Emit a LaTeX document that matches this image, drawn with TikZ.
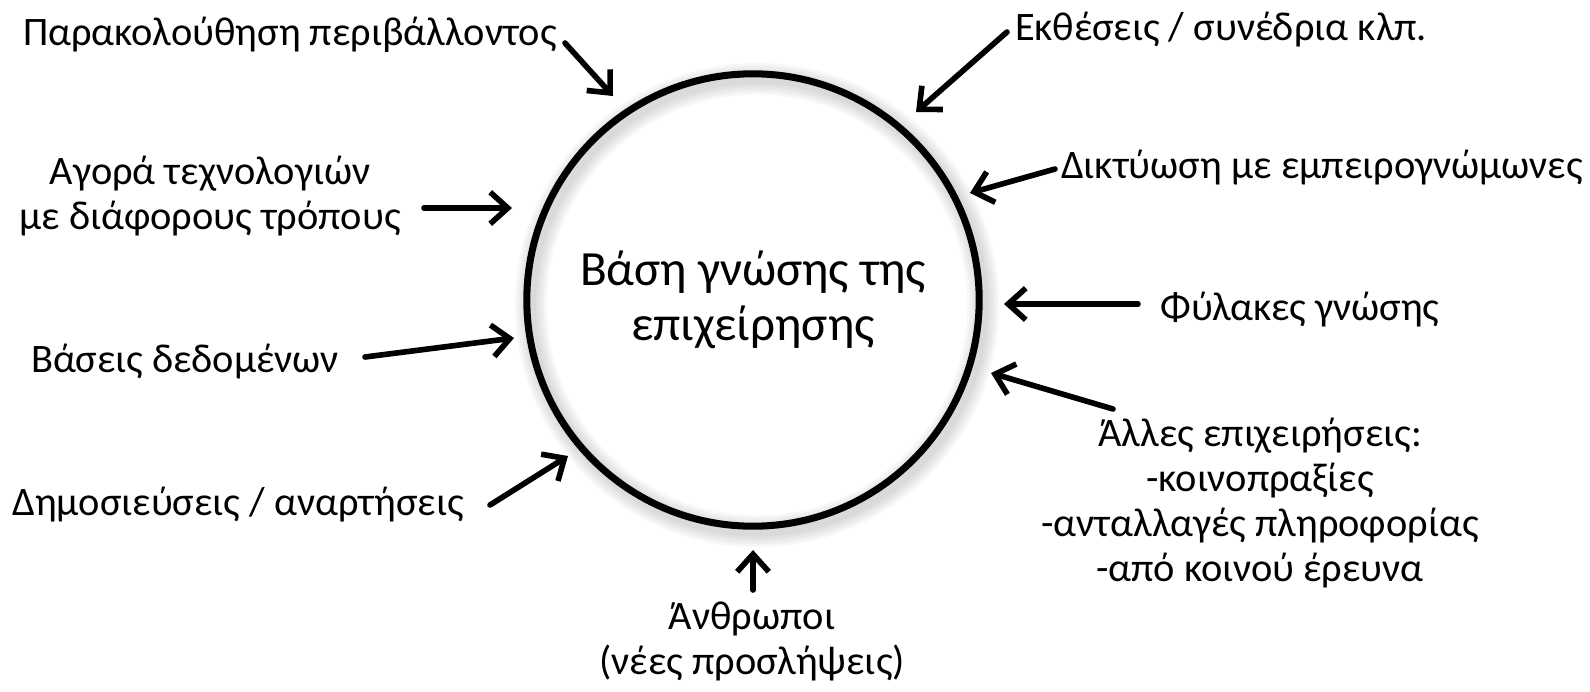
\documentclass[tikz,border=0pt]{standalone}
\usepackage{fontspec}
\setmainfont{Carlito}
\usetikzlibrary{arrows.meta, calc}

\begin{document}
\begin{tikzpicture}[
    x=0.02cm, y=-0.02cm,
    label/.style={align=center, inner sep=0pt, font=\fontsize{23}{25.6}\selectfont},
    base/.style={circle, draw, line width=4pt, minimum size=9.05cm, align=center,
        font=\fontsize{28}{31}\selectfont},
    glow/.style={draw=black, opacity=0.03},
    arrow/.style={-{Straight Barb[length=10pt, width=18pt]}, line width=3.2pt, line cap=round}
]
\useasboundingbox (0,0) rectangle (1590,691);

% Soft shadow of the ring
\foreach \w in {6,9,12,15,18}
    \draw[glow, line width=\w pt] (757,305) circle (4.525cm);

% Knowledge base
\node[base] (kb) at (753,300) {Βάση γνώσης της\\επιχείρησης};

% Sources
\node[label] (parak) at (290,35) {Παρακολούθηση περιβάλλοντος};
\node[label] (ekth) at (1221,30) {Εκθέσεις / συνέδρια κλπ.};
\node[label] (agora) at (210,196) {Αγορά τεχνολογιών\\με διάφορους τρόπους};
\node[label] (diktyo) at (1322,168) {Δικτύωση με εμπειρογνώμωνες};
\node[label] (fylak) at (1300,310) {Φύλακες γνώσης};
\node[label] (vaseis) at (185,362) {Βάσεις δεδομένων};
\node[label] (alles) at (1260,503) {Άλλες επιχειρήσεις:\\-κοινοπραξίες\\-ανταλλαγές πληροφορίας\\-από κοινού έρευνα};
\node[label] (dimos) at (238,505) {Δημοσιεύσεις / αναρτήσεις};
\node[label] (anthr) at (752,641) {Άνθρωποι\\(νέες προσλήψεις)};

% Arrow ends
\coordinate (parak-t) at (565,43);   \coordinate (parak-h) at (613,96);
\coordinate (ekth-t) at (1007,32);   \coordinate (ekth-h) at (916,112);
\coordinate (agora-t) at (424,208);  \coordinate (agora-h) at (512,208);
\coordinate (diktyo-t) at (1055,169); \coordinate (diktyo-h) at (970,193);
\coordinate (fylak-t) at (1138,304); \coordinate (fylak-h) at (1004,304);
\coordinate (vaseis-t) at (365,357); \coordinate (vaseis-h) at (514,338);
\coordinate (alles-t) at (1113,409); \coordinate (alles-h) at (991,373);
\coordinate (dimos-t) at (490,505);  \coordinate (dimos-h) at (568,456);
\coordinate (anthr-t) at (753,590);  \coordinate (anthr-h) at (753,550);

% Arrows
\draw[arrow] (parak-t) -- (parak-h);
\draw[arrow] (ekth-t) -- (ekth-h);
\draw[arrow] (agora-t) -- (agora-h);
\draw[arrow] (diktyo-t) -- (diktyo-h);
\draw[arrow] (fylak-t) -- (fylak-h);
\draw[arrow] (vaseis-t) -- (vaseis-h);
\draw[arrow] (alles-t) -- (alles-h);
\draw[arrow] (dimos-t) -- (dimos-h);
\draw[arrow] (anthr-t) -- (anthr-h);
\end{tikzpicture}
\end{document}
